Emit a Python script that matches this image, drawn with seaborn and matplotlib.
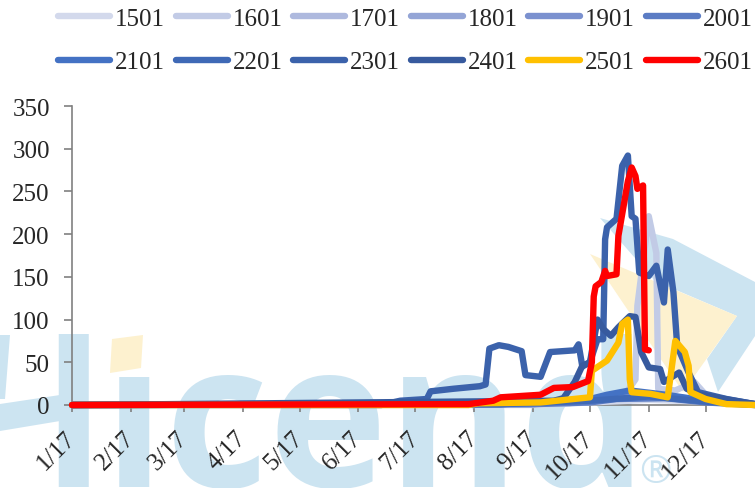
import pandas as pd
import seaborn as sns
import matplotlib.pyplot as plt
from matplotlib.patches import Polygon

# Contratos e cores
names = ["1501", "1601", "1701", "1801", "1901", "2001",
         "2101", "2201", "2301", "2401", "2501", "2601"]
colors = ["#d3d9ec", "#c2cbe6", "#aeb9de", "#94a5d6", "#7b91cf", "#5b7cc4",
          "#4472c4", "#3f69b6", "#3b62ab", "#375a9e", "#ffc000", "#ff0000"]
tick_labels = ["1/17", "2/17", "3/17", "4/17", "5/17", "6/17",
               "7/17", "8/17", "9/17", "10/17", "11/17", "12/17"]

# Valores
d_1501 = ["2017-01-01", "2017-09-01", "2017-10-01", "2017-11-01", "2017-12-01", "2017-12-27"]
v_1501 = [0, 0, 3, 6, 4, 1]
d_1601 = ["2017-01-01", "2017-09-20", "2017-10-20", "2017-10-25", "2017-10-26", "2017-11-01",
          "2017-11-05", "2017-11-06", "2017-11-15", "2017-11-25", "2017-12-01", "2017-12-12", "2017-12-27"]
v_1601 = [0, 2, 14, 30, 116, 221, 178, 19, 17, 27, 12, 6, 1]
d_1701 = ["2017-01-01", "2017-09-01", "2017-10-05", "2017-11-01", "2017-12-01", "2017-12-27"]
v_1701 = [0, 1, 6, 10, 5, 1]
d_1801 = ["2017-01-01", "2017-09-01", "2017-10-10", "2017-11-01", "2017-12-01", "2017-12-27"]
v_1801 = [0, 1, 8, 12, 6, 1]
d_1901 = ["2017-01-01", "2017-08-15", "2017-10-01", "2017-10-25", "2017-12-01", "2017-12-27"]
v_1901 = [0, 1, 7, 14, 5, 1]
d_2001 = ["2017-01-01", "2017-09-01", "2017-10-01", "2017-10-15", "2017-11-10", "2017-12-01", "2017-12-27"]
v_2001 = [0, 1, 3, 7, 8, 3, 0]
d_2101 = ["2017-01-01", "2017-08-15", "2017-10-01", "2017-10-10", "2017-10-22", "2017-11-10", "2017-12-01", "2017-12-27"]
v_2101 = [0, 1, 7, 12, 17, 12, 5, 1]
d_2201 = ["2017-01-01", "2017-08-15", "2017-10-01", "2017-11-01", "2017-12-01", "2017-12-27"]
v_2201 = [0, 1, 5, 10, 4, 0]
d_2301 = ["2017-01-01", "2017-06-13", "2017-06-23", "2017-07-07", "2017-07-09", "2017-07-21",
          "2017-08-04", "2017-08-07", "2017-08-09", "2017-08-14", "2017-08-19", "2017-08-26",
          "2017-08-28", "2017-09-05", "2017-09-10", "2017-09-23", "2017-09-25", "2017-09-27",
          "2017-10-01", "2017-10-05", "2017-10-08", "2017-10-09", "2017-10-10", "2017-10-15",
          "2017-10-18", "2017-10-21", "2017-10-23", "2017-10-25", "2017-10-27", "2017-11-01",
          "2017-11-05", "2017-11-09", "2017-11-11", "2017-11-14", "2017-11-16", "2017-11-22",
          "2017-11-27", "2017-12-12", "2017-12-27"]
v_2301 = [0, 0, 5, 7, 16, 19, 22, 24, 66, 70, 68, 63, 35, 33, 62, 64, 71, 45, 50, 77, 77,
          194, 208, 218, 280, 292, 221, 218, 155, 151, 163, 120, 182, 132, 69, 38, 15, 7, 1]
d_2401 = ["2017-01-01", "2017-09-12", "2017-09-17", "2017-09-23", "2017-09-27", "2017-10-01",
          "2017-10-05", "2017-10-08", "2017-10-12", "2017-10-16", "2017-10-22", "2017-10-25",
          "2017-10-28", "2017-11-01", "2017-11-07", "2017-11-09", "2017-11-17", "2017-11-21",
          "2017-11-28", "2017-12-27"]
v_2401 = [0, 5, 8, 27, 46, 50, 100, 89, 81, 91, 104, 103, 62, 44, 42, 27, 38, 19, 12, 1]
d_2501 = ["2017-01-01", "2017-07-29", "2017-08-03", "2017-09-05", "2017-10-01", "2017-10-02",
          "2017-10-10", "2017-10-16", "2017-10-18", "2017-10-21", "2017-10-22", "2017-10-23",
          "2017-11-02", "2017-11-11", "2017-11-15", "2017-11-20", "2017-11-22", "2017-11-23",
          "2017-12-01", "2017-12-12", "2017-12-27"]
v_2501 = [0, 0, 2, 3, 9, 40, 52, 73, 95, 100, 30, 15, 13, 9, 75, 62, 46, 15, 7, 1, 0]
d_2601 = ["2017-01-01", "2017-07-29", "2017-08-11", "2017-08-15", "2017-09-05", "2017-09-12",
          "2017-09-22", "2017-09-30", "2017-10-02", "2017-10-03", "2017-10-04", "2017-10-07",
          "2017-10-09", "2017-10-10", "2017-10-15", "2017-10-16", "2017-10-21", "2017-10-23",
          "2017-10-25", "2017-10-26", "2017-10-29", "2017-10-30", "2017-11-01"]
v_2601 = [0, 1, 5, 9, 12, 20, 21, 28, 50, 127, 139, 144, 157, 151, 153, 198, 262, 278, 268,
          253, 257, 65, 64]

dates = [d_1501, d_1601, d_1701, d_1801, d_1901, d_2001, d_2101, d_2201, d_2301, d_2401, d_2501, d_2601]
values = [v_1501, v_1601, v_1701, v_1801, v_1901, v_2001, v_2101, v_2201, v_2301, v_2401, v_2501, v_2601]

W, H = 755, 489
sns.set_theme(style="white")
plt.rcParams["font.family"] = ["Liberation Serif", "DejaVu Serif"]
fig = plt.figure(figsize=(W / 100, H / 100), dpi=100)
ax = fig.add_axes([72 / W, 1 - 406 / H, (755 - 72) / W, (406 - 107) / H])
ax.patch.set_alpha(0)
ax.set_zorder(5)


def px(points):
    return [(x / W, 1 - y / H) for x, y in points]


# Marca d'água ao fundo
blue = "#cce4f1"
cream = "#fdf1cf"
marks = [
    ([(600, 219), (673, 240), (755, 283), (755, 337), (718, 393), (707, 360), (737, 317), (655, 282)], blue),
    ([(590, 255), (737, 317), (683, 393)], cream),
    ([(112, 340), (143, 336), (141, 369), (110, 374)], cream),
    ([(0, 405), (60, 396), (60, 422), (0, 432)], blue),
    ([(0, 336), (10, 336), (5, 400), (0, 400)], blue),
]
for pts, col in marks:
    fig.add_artist(Polygon(px(pts), transform=fig.transFigure, fc=col, ec="none", zorder=0))
fig.text(42 / W, 1 - 487 / H, "lıcend", fontsize=145, color=blue, family="Open Sans",
         weight="bold", zorder=0)
fig.text(655 / W, 1 - 473 / H, "®", fontsize=28, color=blue, family="Open Sans",
         ha="center", va="center", zorder=0)

for name, color, d, v in zip(names, colors, dates, values):
    sns.lineplot(x=pd.to_datetime(d), y=v, color=color, lw=4.6, label=name, ax=ax,
                 estimator=None, sort=False, solid_joinstyle="round", solid_capstyle="round")
for line in ax.get_lines():
    line.set_clip_on(False)

ax.set_xlim(pd.Timestamp("2017-01-01"), pd.Timestamp("2017-12-27"))
ax.set_ylim(0, 350)
ax.set_xlabel("")
ax.set_ylabel("")
ax.set_yticks(range(0, 351, 50))
ax.set_xticks(pd.date_range("2017-01-01", periods=12, freq="MS"))
ax.set_xticklabels(tick_labels, rotation=45, ha="right", va="center", rotation_mode="anchor")
ax.tick_params(axis="x", length=5, width=1.2, color="#808080", labelsize=18, pad=16, bottom=True)
ax.tick_params(axis="y", length=6, width=1.2, color="#808080", labelsize=18, pad=10, left=True)
for s in ["top", "right"]:
    ax.spines[s].set_visible(False)
for s in ["left", "bottom"]:
    ax.spines[s].set_color("#808080")
    ax.spines[s].set_linewidth(1.2)
    ax.spines[s].set_zorder(1)

# Legenda em duas linhas, preenchida por linha
handles, labels = ax.get_legend_handles_labels()
order = [i + j for i in range(6) for j in (0, 6)]
ax.legend([handles[i] for i in order], [labels[i] for i in order], ncol=6, loc="upper left",
          bbox_to_anchor=(58 / W, 1 - 8.5 / H), bbox_transform=fig.transFigure,
          frameon=False, fontsize=18, handlelength=2.08, handletextpad=0.2, columnspacing=0.42,
          labelspacing=0.83, borderpad=0, borderaxespad=0)

fig.savefig("out.png", dpi=100)
plt.close(fig)
